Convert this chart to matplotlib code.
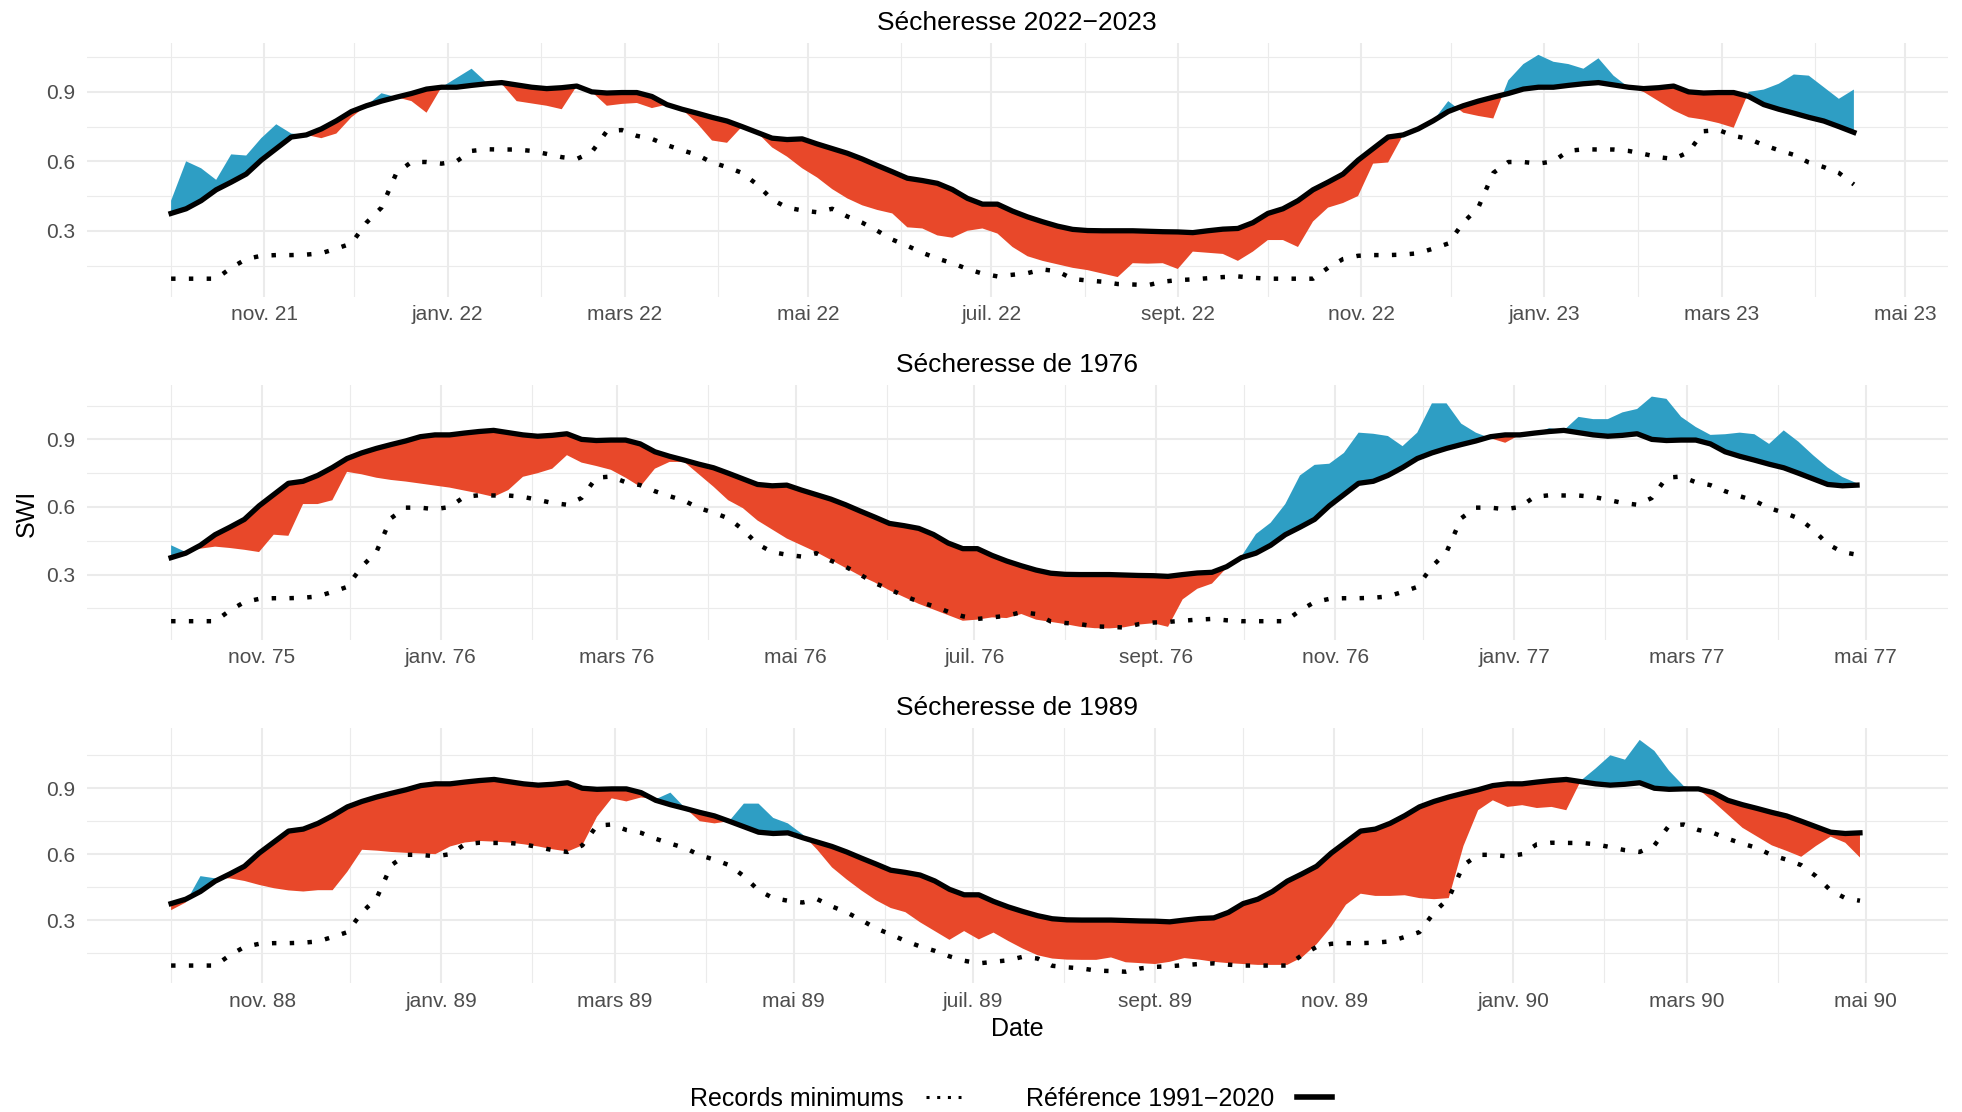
import numpy as np
import matplotlib
matplotlib.use('Agg')
import matplotlib.pyplot as plt
import matplotlib.dates as mdates
from matplotlib.ticker import FixedLocator, FuncFormatter
from matplotlib.lines import Line2D

plt.rcParams['font.family'] = ['Liberation Sans', 'DejaVu Sans']

STEP = 5  # days between two samples, counted from 1 October

# SWI climatology by day of year (1 Oct -> 26 Sep), one value every 5 days
REFERENCE = [
    0.375, 0.395, 0.43, 0.477, 0.51, 0.545, 0.605, 0.655, 0.705, 0.714,
    0.74, 0.775, 0.815, 0.84, 0.86, 0.877, 0.893, 0.912, 0.92, 0.92,
    0.928, 0.935, 0.94, 0.93, 0.92, 0.914, 0.918, 0.925, 0.9, 0.895,
    0.897, 0.897, 0.88, 0.845, 0.825, 0.808, 0.79, 0.774, 0.75, 0.725,
    0.7, 0.694, 0.697, 0.675, 0.655, 0.635, 0.61, 0.582, 0.555, 0.527,
    0.517, 0.505, 0.478, 0.44, 0.415, 0.415, 0.385, 0.36, 0.339, 0.32,
    0.306, 0.301, 0.3, 0.3, 0.3, 0.298, 0.296, 0.295, 0.292, 0.3,
    0.307, 0.31, 0.335,
]

RECORDS = [
    0.093, 0.093, 0.093, 0.093, 0.14, 0.178, 0.192, 0.195, 0.195, 0.197,
    0.203, 0.223, 0.245, 0.335, 0.40, 0.55, 0.597, 0.597, 0.59, 0.60,
    0.645, 0.652, 0.651, 0.651, 0.645, 0.632, 0.618, 0.61, 0.64, 0.73,
    0.735, 0.71, 0.697, 0.67, 0.648, 0.628, 0.595, 0.575, 0.55, 0.50,
    0.435, 0.40, 0.388, 0.38, 0.395, 0.362, 0.335, 0.30, 0.262, 0.235,
    0.205, 0.18, 0.16, 0.135, 0.115, 0.103, 0.11, 0.117, 0.133, 0.125,
    0.092, 0.085, 0.08, 0.07, 0.068, 0.065, 0.08, 0.087, 0.09, 0.095,
    0.10, 0.103, 0.097,
]

# observed SWI, same 5-day sampling
SWI_2022 = [
    0.43, 0.60, 0.57, 0.52, 0.63, 0.625, 0.70, 0.76, 0.72, 0.714,
    0.70, 0.72, 0.79, 0.84, 0.894, 0.877, 0.86, 0.81, 0.92, 0.96,
    1.0, 0.94, 0.935, 0.86, 0.85, 0.84, 0.825, 0.925, 0.9, 0.84,
    0.848, 0.852, 0.83, 0.845, 0.825, 0.765, 0.69, 0.68, 0.75, 0.725,
    0.66, 0.62, 0.57, 0.53, 0.48, 0.44, 0.41, 0.39, 0.375, 0.315,
    0.31, 0.28, 0.27, 0.30, 0.31, 0.288, 0.23, 0.19, 0.17, 0.155,
    0.14, 0.13, 0.115, 0.10, 0.16, 0.158, 0.16, 0.135, 0.21, 0.205,
    0.20, 0.17, 0.21, 0.26, 0.26, 0.23, 0.34, 0.40, 0.42, 0.45,
    0.59, 0.595, 0.714, 0.74, 0.775, 0.86, 0.81, 0.796, 0.785, 0.95,
    1.02, 1.06, 1.03, 1.02, 1.0, 1.045, 0.97, 0.92, 0.90, 0.86,
    0.82, 0.79, 0.78, 0.765, 0.745, 0.90, 0.91, 0.935, 0.975, 0.97,
    0.92, 0.87, 0.91,
]

SWI_1976 = [
    0.43, 0.40, 0.415, 0.424, 0.418, 0.41, 0.40, 0.477, 0.472, 0.613,
    0.613, 0.63, 0.756, 0.745, 0.73, 0.72, 0.713, 0.704, 0.695, 0.686,
    0.673, 0.66, 0.645, 0.675, 0.734, 0.75, 0.77, 0.83, 0.797, 0.782,
    0.765, 0.73, 0.69, 0.77, 0.80, 0.80, 0.745, 0.69, 0.63, 0.595,
    0.54, 0.50, 0.46, 0.43, 0.40, 0.365, 0.33, 0.295, 0.265, 0.23,
    0.20, 0.17, 0.145, 0.12, 0.095, 0.10, 0.11, 0.107, 0.125, 0.10,
    0.09, 0.08, 0.068, 0.062, 0.061, 0.066, 0.078, 0.084, 0.068, 0.19,
    0.237, 0.26, 0.33, 0.38, 0.48, 0.53, 0.613, 0.74, 0.787, 0.792,
    0.84, 0.93, 0.925, 0.915, 0.87, 0.93, 1.06, 1.06, 0.97, 0.93,
    0.905, 0.885, 0.92, 0.925, 0.95, 0.94, 1.0, 0.99, 0.99, 1.02,
    1.035, 1.09, 1.08, 1.0, 0.955, 0.92, 0.923, 0.93, 0.923, 0.88,
    0.94, 0.89, 0.83, 0.775, 0.733, 0.705,
]

SWI_1989 = [
    0.345, 0.38, 0.50, 0.49, 0.49, 0.478, 0.46, 0.445, 0.435, 0.43,
    0.436, 0.436, 0.52, 0.62, 0.616, 0.61, 0.606, 0.603, 0.60, 0.635,
    0.653, 0.66, 0.657, 0.653, 0.645, 0.635, 0.622, 0.612, 0.64, 0.77,
    0.854, 0.84, 0.858, 0.85, 0.88, 0.81, 0.75, 0.74, 0.75, 0.83,
    0.83, 0.765, 0.74, 0.69, 0.62, 0.54, 0.485, 0.435, 0.39, 0.355,
    0.336, 0.29, 0.25, 0.21, 0.25, 0.212, 0.243, 0.205, 0.17, 0.14,
    0.125, 0.12, 0.119, 0.119, 0.13, 0.108, 0.104, 0.10, 0.11, 0.127,
    0.12, 0.11, 0.104, 0.10, 0.096, 0.096, 0.096, 0.13, 0.19, 0.27,
    0.37, 0.42, 0.41, 0.41, 0.413, 0.40, 0.395, 0.40, 0.637, 0.80,
    0.845, 0.815, 0.823, 0.81, 0.815, 0.80, 0.935, 0.99, 1.05, 1.03,
    1.12, 1.07, 0.98, 0.91, 0.895, 0.84, 0.78, 0.72, 0.68, 0.64,
    0.615, 0.588, 0.637, 0.68, 0.652, 0.585,
]

TITLES = ['Sécheresse 2022−2023', 'Sécheresse de 1976', 'Sécheresse de 1989']
STARTS = ['2021-10-01', '1975-10-01', '1988-10-01']
# last day of the record in each period
ENDS = ['2023-04-17', '1977-04-30', '1990-04-30']
SERIES = [SWI_2022, SWI_1976, SWI_1989]

MONTHS = {1: 'janv.', 2: 'févr.', 3: 'mars', 4: 'avr.', 5: 'mai', 6: 'juin',
          7: 'juil.', 8: 'août', 9: 'sept.', 10: 'oct.', 11: 'nov.', 12: 'déc.'}

BLUE = '#2e9ec4'
RED = '#e8482a'
GRID = '#ebebeb'

W, H = 1962, 1112
# panel boxes in pixels: left, top, right, bottom
BOXES = [(86.5, 43.3, 1947.5, 296.7),
         (86.5, 385.0, 1947.5, 640.0),
         (86.5, 728.3, 1947.5, 983.3)]


def month_label(x, pos):
    d = mdates.num2date(x)
    return '%s %02d' % (MONTHS[d.month], d.year % 100)


def draw_panel(ax, title, start, end, swi):
    n = len(swi)
    dates = np.datetime64(start) + np.arange(n) * np.timedelta64(STEP, 'D')
    ref = np.concatenate([REFERENCE, REFERENCE])[:n]
    rec = np.concatenate([RECORDS, RECORDS])[:n]
    swi = np.array(swi)

    ax.fill_between(dates, ref, swi, where=swi >= ref, interpolate=True,
                    color=BLUE, lw=0, zorder=2)
    ax.fill_between(dates, ref, swi, where=swi < ref, interpolate=True,
                    color=RED, lw=0, zorder=2)
    ax.plot(dates, rec, color='black', lw=3.2, linestyle=(0, (1, 3)), zorder=3)
    ax.plot(dates, ref, color='black', lw=3.8, zorder=4)

    # 5 % padding around the full period, like the y axis
    x0 = mdates.date2num(np.datetime64(start))
    x1 = mdates.date2num(np.datetime64(end))
    pad = 0.05 * (x1 - x0)
    ax.set_xlim(x0 - pad, x1 + pad)
    ax.margins(y=0.05)
    ax.set_title(title, fontsize=19, pad=9.5)

    ax.xaxis.set_major_locator(mdates.MonthLocator(bymonth=[1, 3, 5, 7, 9, 11]))
    ax.xaxis.set_minor_locator(mdates.MonthLocator())
    ax.xaxis.set_major_formatter(FuncFormatter(month_label))
    ax.yaxis.set_major_locator(FixedLocator([0.3, 0.6, 0.9]))
    ax.yaxis.set_minor_locator(FixedLocator([0.15, 0.45, 0.75, 1.05]))
    ax.yaxis.set_major_formatter(FuncFormatter(lambda v, p: '%.1f' % v))

    ax.set_axisbelow(True)
    ax.grid(which='major', color=GRID, lw=1.5)
    ax.grid(which='minor', color=GRID, lw=0.8)
    ax.tick_params(which='both', length=0, labelsize=15, labelcolor='#4d4d4d')
    ax.tick_params(axis='x', pad=6)
    ax.tick_params(axis='y', pad=8)
    for s in ax.spines.values():
        s.set_visible(False)


def main():
    fig = plt.figure(figsize=(W / 100, H / 100), dpi=100)

    for box, title, start, end, swi in zip(BOXES, TITLES, STARTS, ENDS, SERIES):
        l, t, r, b = box
        ax = fig.add_axes([l / W, 1 - b / H, (r - l) / W, (b - t) / H])
        draw_panel(ax, title, start, end, swi)

    fig.text(26.5 / W, 1 - 513 / H, 'SWI', rotation=90, ha='center',
             va='center', fontsize=18)
    fig.text(1017 / W, 1 - 1036.5 / H, 'Date', ha='center', va='baseline',
             fontsize=18)

    handles = [Line2D([], [], color='black', lw=2.2, linestyle=(0, (1, 2.5))),
               Line2D([], [], color='black', lw=4)]
    fig.legend(handles, ['Records minimums', 'Référence 1991−2020'],
               loc='center', bbox_to_anchor=(1011 / W, 1 - 1099 / H), ncol=2,
               frameon=False, markerfirst=False, fontsize=18, handlelength=1.4,
               handletextpad=0.9, columnspacing=2.6, borderpad=0)

    fig.savefig('out.png', dpi=100, facecolor='white')


if __name__ == '__main__':
    main()
